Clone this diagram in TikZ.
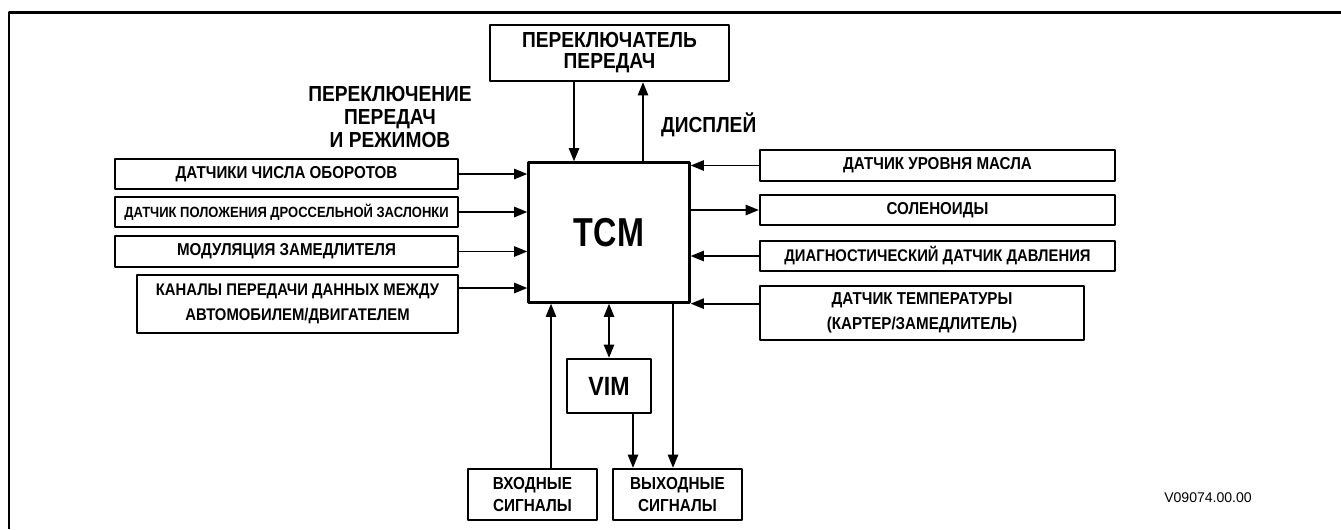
\documentclass[tikz,border=0pt]{standalone}
\usepackage{fontspec}
\setmainfont{Liberation Sans}
\newfontfamily\narrowsf[FakeStretch=0.88]{Liberation Sans}
\newfontfamily\tallsf[FakeStretch=0.8]{Liberation Sans}
\usetikzlibrary{arrows.meta}

\begin{document}
\begin{tikzpicture}[line cap=round,line join=round,>={Triangle[length=7.5pt,width=5.8pt]},x=0.02cm,y=-0.02cm,
		blk/.style={draw,line width=1.3pt,inner sep=0pt,align=center,font=\narrowsf\fontsize{9.8}{14}\selectfont\bfseries},
		lbl/.style={align=center,font=\narrowsf\fontsize{12.4}{13}\selectfont\bfseries},
		lnk/.style={line width=1.1pt,->}]
		\useasboundingbox (0,0) rectangle (1341,529);
		\draw [line width=1.7pt,line cap=butt] (9,529) -- (9,12) -- (1341,12);
		\node[blk,minimum width=4.78cm,minimum height=1.12cm,font=\narrowsf\fontsize{12.4}{12}\selectfont\bfseries] (shifter) at (609.5,53) {ПЕРЕКЛЮЧАТЕЛЬ\\ПЕРЕДАЧ};
		\node[blk,minimum width=3.22cm,minimum height=2.8cm,font=\tallsf\fontsize{23}{24}\selectfont\bfseries] (tcm) at (609,232.5) {TCM};
		\node[blk,minimum width=6.86cm,minimum height=0.6cm] (speed) at (286.5,174) {ДАТЧИКИ ЧИСЛА ОБОРОТОВ};
		\node[blk,minimum width=6.86cm,minimum height=0.6cm,font=\narrowsf\fontsize{8.4}{10}\selectfont\bfseries] (throttle) at (286.5,212) {ДАТЧИК ПОЛОЖЕНИЯ ДРОССЕЛЬНОЙ ЗАСЛОНКИ};
		\node[blk,minimum width=6.86cm,minimum height=0.62cm] (retarder) at (286.5,251.5) {МОДУЛЯЦИЯ ЗАМЕДЛИТЕЛЯ};
		\node[blk,minimum width=6.42cm,minimum height=1.16cm,font=\narrowsf\fontsize{9.6}{14}\selectfont\bfseries] (datalink) at (297.5,304) {КАНАЛЫ ПЕРЕДАЧИ ДАННЫХ МЕЖДУ\\АВТОМОБИЛЕМ/ДВИГАТЕЛЕМ};
		\node[blk,minimum width=7.1cm,minimum height=0.62cm] (oil) at (937.5,165.5) {ДАТЧИК УРОВНЯ МАСЛА};
		\node[blk,minimum width=7.1cm,minimum height=0.6cm] (sol) at (937.5,210) {СОЛЕНОИДЫ};
		\node[blk,minimum width=7.1cm,minimum height=0.6cm,font=\narrowsf\fontsize{9.6}{14}\selectfont\bfseries] (press) at (937.5,256) {ДИАГНОСТИЧЕСКИЙ ДАТЧИК ДАВЛЕНИЯ};
		\node[blk,minimum width=6.48cm,minimum height=1.08cm] (temp) at (922,313) {ДАТЧИК ТЕМПЕРАТУРЫ\\(КАРТЕР/ЗАМЕДЛИТЕЛЬ)};
		\node[blk,minimum width=1.68cm,minimum height=1.08cm,font=\narrowsf\fontsize{15}{16}\selectfont\bfseries] (vim) at (609,386) {VIM};
		\node[blk,minimum width=2.58cm,minimum height=1.02cm,font=\narrowsf\fontsize{9.9}{13}\selectfont\bfseries] (inp) at (532.5,494.5) {ВХОДНЫЕ\\СИГНАЛЫ};
		\node[blk,minimum width=2.58cm,minimum height=1.02cm,font=\narrowsf\fontsize{9.9}{13}\selectfont\bfseries] (outp) at (677.5,494.5) {ВЫХОДНЫЕ\\СИГНАЛЫ};
		\node[lbl] (modes) at (390,117) {ПЕРЕКЛЮЧЕНИЕ\\ПЕРЕДАЧ\\И РЕЖИМОВ};
		\node[lbl,anchor=west] (disp) at (655,125) {ДИСПЛЕЙ};
		\node[font=\fontsize{8}{10}\selectfont] (code) at (1208,498) {V09074.00.00};
		\draw [lnk] ([xshift=-0.71cm]shifter.south) -- ([xshift=-0.71cm]shifter.south |- tcm.north);
		\draw [lnk] ([xshift=0.67cm]shifter.south |- tcm.north) -- ([xshift=0.67cm]shifter.south);
		\draw [lnk] (speed.east) -- (speed.east -| tcm.west);
		\draw [lnk] (throttle.east) -- (throttle.east -| tcm.west);
		\draw [lnk] (retarder.east) -- (retarder.east -| tcm.west);
		\draw [lnk] ([yshift=0.32cm]datalink.east) -- ([yshift=0.32cm]datalink.east -| tcm.west);
		\draw [lnk] (oil.west) -- (oil.west -| tcm.east);
		\draw [lnk] (sol.west -| tcm.east) -- (sol.west);
		\draw [lnk] (press.west) -- (press.west -| tcm.east);
		\draw [lnk] (temp.west |- tcm.south east) -- (tcm.south east);
		\draw [lnk] ([xshift=0.37cm]inp.north) -- ([xshift=0.37cm]inp.north |- tcm.south);
		\draw [lnk,<->] (vim.north) -- (vim.north |- tcm.south);
		\draw [lnk] ([xshift=0.48cm]vim.south) -- ([xshift=0.48cm]vim.south |- outp.north);
		\draw [lnk] ([xshift=-0.09cm]outp.north |- tcm.south) -- ([xshift=-0.09cm]outp.north);
	\end{tikzpicture}
\end{document}
